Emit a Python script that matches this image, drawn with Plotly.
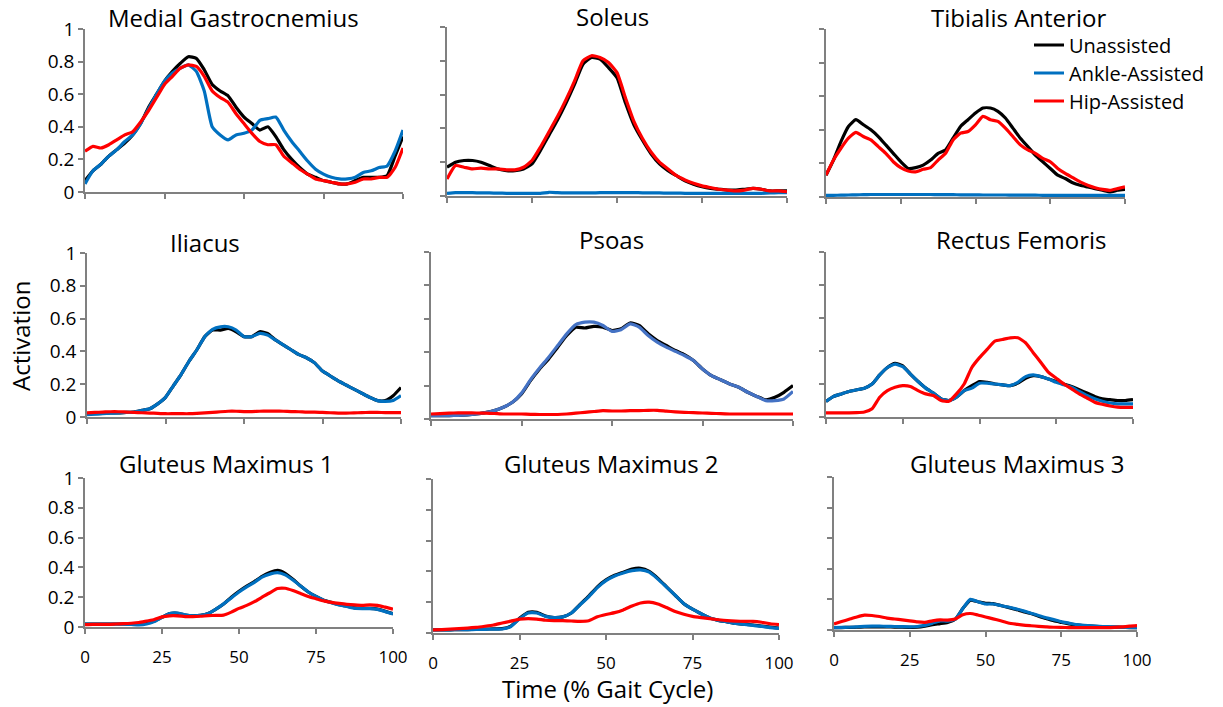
import plotly.graph_objects as go

# ---------------- data ----------------
PCT = [0, 2.5, 5, 7.5, 10, 12.5, 15, 17.5, 20, 22.5, 25, 27.5, 30, 32.5, 35, 37.5, 40,
       42.5, 45, 47.5, 50, 52.5, 55, 57.5, 60, 62.5, 65, 67.5, 70, 72.5, 75, 77.5, 80,
       82.5, 85, 87.5, 90, 92.5, 95, 97.5, 100]

SERIES = ["Unassisted", "Ankle-Assisted", "Hip-Assisted"]
X_TICKS = [0, 25, 50, 75, 100]
Y_TICKS = [0, 0.2, 0.4, 0.6, 0.8, 1]
MUSCLES = ["Medial Gastrocnemius", "Soleus", "Tibialis Anterior",
           "Iliacus", "Psoas", "Rectus Femoris",
           "Gluteus Maximus 1", "Gluteus Maximus 2", "Gluteus Maximus 3"]

MG_UN = [0.07, 0.13, 0.17, 0.22, 0.26, 0.30, 0.35, 0.42, 0.52, 0.60, 0.68, 0.74, 0.79, 0.83,
         0.82, 0.75, 0.66, 0.62, 0.59, 0.52, 0.46, 0.42, 0.38, 0.40, 0.34, 0.26, 0.20, 0.15,
         0.11, 0.09, 0.07, 0.06, 0.05, 0.05, 0.07, 0.09, 0.09, 0.09, 0.10, 0.22, 0.34]
MG_ANK = [0.05, 0.13, 0.17, 0.22, 0.26, 0.31, 0.35, 0.42, 0.51, 0.60, 0.68, 0.73, 0.76, 0.78,
          0.74, 0.62, 0.40, 0.35, 0.32, 0.35, 0.36, 0.38, 0.44, 0.45, 0.46, 0.38, 0.31, 0.25,
          0.19, 0.14, 0.11, 0.09, 0.08, 0.08, 0.09, 0.12, 0.13, 0.15, 0.16, 0.25, 0.38]
MG_HIP = [0.25, 0.28, 0.27, 0.29, 0.32, 0.35, 0.37, 0.43, 0.50, 0.58, 0.66, 0.71, 0.76, 0.78,
          0.77, 0.71, 0.62, 0.58, 0.55, 0.48, 0.42, 0.36, 0.31, 0.29, 0.29, 0.22, 0.18, 0.14,
          0.11, 0.08, 0.07, 0.06, 0.05, 0.05, 0.06, 0.08, 0.08, 0.09, 0.09, 0.15, 0.27]

SOL_UN = [0.17, 0.20, 0.21, 0.21, 0.20, 0.18, 0.16, 0.15, 0.15, 0.16, 0.19, 0.27, 0.36, 0.45,
          0.55, 0.66, 0.78, 0.82, 0.81, 0.76, 0.70, 0.55, 0.42, 0.33, 0.25, 0.19, 0.15, 0.12,
          0.09, 0.07, 0.055, 0.045, 0.04, 0.035, 0.035, 0.04, 0.045, 0.04, 0.03, 0.03, 0.03]
SOL_ANK = [0.015, 0.02, 0.02, 0.02, 0.018, 0.018, 0.017, 0.016, 0.016, 0.016, 0.016, 0.016,
           0.022, 0.02, 0.018, 0.018, 0.018, 0.018, 0.02, 0.02, 0.02, 0.02, 0.02, 0.019, 0.018,
           0.018, 0.017, 0.017, 0.016, 0.016, 0.015, 0.015, 0.015, 0.015, 0.015, 0.015, 0.015,
           0.016, 0.018, 0.02, 0.02]
SOL_HIP = [0.10, 0.18, 0.17, 0.16, 0.165, 0.16, 0.16, 0.155, 0.155, 0.17, 0.21, 0.29, 0.38,
           0.47, 0.57, 0.68, 0.80, 0.83, 0.82, 0.79, 0.73, 0.58, 0.44, 0.34, 0.26, 0.20, 0.16,
           0.12, 0.095, 0.075, 0.06, 0.05, 0.04, 0.035, 0.03, 0.035, 0.045, 0.04, 0.03, 0.03, 0.025]

TA_UN = [0.13, 0.22, 0.33, 0.42, 0.46, 0.43, 0.40, 0.36, 0.31, 0.26, 0.21, 0.17, 0.175, 0.19,
         0.22, 0.26, 0.28, 0.35, 0.42, 0.46, 0.50, 0.53, 0.53, 0.51, 0.47, 0.41, 0.35, 0.30,
         0.25, 0.21, 0.17, 0.13, 0.11, 0.085, 0.07, 0.06, 0.05, 0.04, 0.03, 0.04, 0.045]
TA_ANK = [0.01, 0.01, 0.011, 0.012, 0.013, 0.014, 0.015, 0.015, 0.015, 0.015, 0.015, 0.015,
          0.015, 0.015, 0.015, 0.014, 0.014, 0.014, 0.013, 0.013, 0.013, 0.012, 0.012, 0.012,
          0.012, 0.011, 0.011, 0.011, 0.011, 0.01, 0.01, 0.01, 0.01, 0.01, 0.01, 0.01, 0.01,
          0.01, 0.01, 0.01, 0.01]
TA_HIP = [0.13, 0.22, 0.29, 0.35, 0.385, 0.36, 0.34, 0.30, 0.26, 0.21, 0.175, 0.155, 0.15,
          0.165, 0.175, 0.22, 0.26, 0.34, 0.38, 0.39, 0.43, 0.48, 0.46, 0.45, 0.41, 0.36, 0.31,
          0.28, 0.26, 0.23, 0.21, 0.17, 0.14, 0.115, 0.09, 0.07, 0.055, 0.045, 0.04, 0.05, 0.06]

IL_UN = [0.02, 0.02, 0.022, 0.025, 0.025, 0.028, 0.03, 0.04, 0.05, 0.08, 0.12, 0.19, 0.26,
         0.34, 0.41, 0.49, 0.53, 0.53, 0.54, 0.52, 0.49, 0.49, 0.52, 0.51, 0.47, 0.44, 0.41,
         0.38, 0.36, 0.33, 0.28, 0.25, 0.22, 0.195, 0.17, 0.145, 0.12, 0.10, 0.10, 0.13, 0.18]
IL_ANK = [0.015, 0.018, 0.02, 0.023, 0.025, 0.028, 0.03, 0.04, 0.05, 0.08, 0.12, 0.19, 0.26,
          0.34, 0.41, 0.49, 0.535, 0.55, 0.55, 0.53, 0.49, 0.49, 0.51, 0.50, 0.47, 0.44, 0.41,
          0.38, 0.36, 0.33, 0.28, 0.25, 0.22, 0.195, 0.17, 0.145, 0.12, 0.10, 0.095, 0.10, 0.13]
IL_HIP = [0.025, 0.028, 0.03, 0.032, 0.032, 0.03, 0.028, 0.026, 0.024, 0.022, 0.02, 0.02, 0.02,
          0.02, 0.022, 0.025, 0.028, 0.032, 0.035, 0.035, 0.033, 0.033, 0.035, 0.036, 0.036,
          0.035, 0.033, 0.032, 0.03, 0.03, 0.028, 0.026, 0.024, 0.024, 0.025, 0.027, 0.028,
          0.028, 0.027, 0.027, 0.027]

PS_UN = [0.02, 0.02, 0.02, 0.022, 0.025, 0.03, 0.038, 0.05, 0.07, 0.10, 0.15, 0.23, 0.30,
         0.36, 0.43, 0.50, 0.55, 0.545, 0.555, 0.55, 0.53, 0.54, 0.575, 0.56, 0.51, 0.47, 0.44,
         0.41, 0.385, 0.35, 0.30, 0.26, 0.235, 0.21, 0.19, 0.16, 0.135, 0.115, 0.13, 0.16, 0.20]
PS_ANK = [0.02, 0.02, 0.02, 0.022, 0.025, 0.03, 0.038, 0.05, 0.07, 0.10, 0.155, 0.235, 0.305,
          0.37, 0.44, 0.51, 0.565, 0.58, 0.58, 0.56, 0.525, 0.535, 0.57, 0.55, 0.50, 0.46, 0.43,
          0.405, 0.38, 0.35, 0.30, 0.26, 0.235, 0.21, 0.19, 0.16, 0.135, 0.11, 0.11, 0.12, 0.165]
PS_HIP = [0.03, 0.032, 0.035, 0.037, 0.037, 0.036, 0.035, 0.033, 0.03, 0.03, 0.03, 0.028,
          0.027, 0.027, 0.027, 0.03, 0.035, 0.04, 0.045, 0.05, 0.048, 0.048, 0.05, 0.05, 0.052,
          0.052, 0.047, 0.043, 0.04, 0.038, 0.036, 0.034, 0.032, 0.03, 0.03, 0.03, 0.03, 0.03,
          0.03, 0.03, 0.03]

RF_UN = [0.095, 0.125, 0.14, 0.155, 0.165, 0.175, 0.20, 0.255, 0.30, 0.325, 0.31, 0.26, 0.215,
         0.175, 0.145, 0.11, 0.10, 0.12, 0.16, 0.19, 0.215, 0.21, 0.20, 0.195, 0.19, 0.205,
         0.235, 0.25, 0.245, 0.23, 0.215, 0.20, 0.185, 0.165, 0.145, 0.125, 0.11, 0.105, 0.10,
         0.10, 0.105]
RF_ANK = [0.095, 0.125, 0.14, 0.155, 0.165, 0.175, 0.20, 0.255, 0.30, 0.32, 0.305, 0.26, 0.215,
          0.175, 0.145, 0.11, 0.10, 0.12, 0.16, 0.175, 0.205, 0.205, 0.20, 0.195, 0.19, 0.21,
          0.245, 0.255, 0.245, 0.23, 0.21, 0.195, 0.18, 0.155, 0.13, 0.11, 0.095, 0.085, 0.08,
          0.08, 0.08]
RF_HIP = [0.025, 0.025, 0.025, 0.025, 0.026, 0.03, 0.05, 0.12, 0.16, 0.18, 0.19, 0.185, 0.16,
          0.14, 0.13, 0.10, 0.095, 0.14, 0.20, 0.30, 0.36, 0.41, 0.46, 0.47, 0.48, 0.48, 0.45,
          0.39, 0.33, 0.27, 0.235, 0.20, 0.17, 0.14, 0.115, 0.09, 0.077, 0.067, 0.06, 0.058, 0.058]

GM1_UN = [0.02, 0.02, 0.02, 0.02, 0.02, 0.02, 0.02, 0.018, 0.025, 0.04, 0.065, 0.09, 0.092,
          0.08, 0.075, 0.078, 0.09, 0.12, 0.155, 0.20, 0.24, 0.275, 0.305, 0.34, 0.365, 0.38,
          0.36, 0.32, 0.275, 0.235, 0.205, 0.18, 0.165, 0.15, 0.14, 0.128, 0.125, 0.125, 0.12,
          0.105, 0.09]
GM1_ANK = [0.02, 0.02, 0.02, 0.02, 0.02, 0.019, 0.017, 0.014, 0.02, 0.037, 0.065, 0.09, 0.094,
           0.082, 0.075, 0.078, 0.09, 0.12, 0.155, 0.195, 0.235, 0.27, 0.30, 0.335, 0.355, 0.365,
           0.35, 0.315, 0.275, 0.235, 0.205, 0.18, 0.163, 0.148, 0.138, 0.126, 0.123, 0.123,
           0.118, 0.103, 0.088]
GM1_HIP = [0.016, 0.018, 0.018, 0.018, 0.02, 0.022, 0.025, 0.03, 0.04, 0.05, 0.068, 0.075,
           0.075, 0.07, 0.07, 0.072, 0.076, 0.078, 0.08, 0.10, 0.125, 0.145, 0.17, 0.20, 0.23,
           0.258, 0.26, 0.245, 0.225, 0.205, 0.19, 0.175, 0.165, 0.158, 0.152, 0.148, 0.145,
           0.148, 0.145, 0.133, 0.12]

GM2_UN = [0.02, 0.02, 0.02, 0.022, 0.022, 0.024, 0.025, 0.027, 0.028, 0.045, 0.095, 0.135,
          0.135, 0.11, 0.10, 0.105, 0.13, 0.185, 0.24, 0.30, 0.345, 0.375, 0.395, 0.415, 0.42,
          0.40, 0.355, 0.30, 0.245, 0.19, 0.155, 0.125, 0.097, 0.082, 0.072, 0.062, 0.057,
          0.052, 0.045, 0.038, 0.032]
GM2_ANK = [0.02, 0.02, 0.02, 0.022, 0.022, 0.023, 0.024, 0.025, 0.026, 0.042, 0.092, 0.13,
           0.13, 0.108, 0.10, 0.105, 0.13, 0.183, 0.235, 0.295, 0.34, 0.37, 0.39, 0.405, 0.41,
           0.395, 0.35, 0.298, 0.245, 0.19, 0.155, 0.125, 0.097, 0.082, 0.072, 0.062, 0.055,
           0.05, 0.043, 0.035, 0.03]
GM2_HIP = [0.02, 0.022, 0.025, 0.028, 0.032, 0.037, 0.044, 0.052, 0.065, 0.077, 0.09, 0.093,
           0.09, 0.083, 0.08, 0.08, 0.078, 0.076, 0.08, 0.105, 0.12, 0.132, 0.15, 0.175, 0.195,
           0.20, 0.188, 0.165, 0.14, 0.122, 0.108, 0.10, 0.093, 0.086, 0.08, 0.077, 0.076, 0.076,
           0.07, 0.06, 0.054]

GM3_UN = [0.015, 0.016, 0.017, 0.018, 0.02, 0.02, 0.02, 0.02, 0.019, 0.018, 0.017, 0.018,
          0.025, 0.035, 0.042, 0.05, 0.07, 0.14, 0.195, 0.185, 0.175, 0.172, 0.16, 0.148, 0.135,
          0.12, 0.108, 0.09, 0.075, 0.06, 0.05, 0.04, 0.033, 0.028, 0.025, 0.022, 0.02, 0.019,
          0.018, 0.016, 0.015]
GM3_ANK = [0.015, 0.017, 0.018, 0.021, 0.024, 0.025, 0.025, 0.024, 0.023, 0.022, 0.021, 0.023,
           0.03, 0.045, 0.06, 0.058, 0.07, 0.14, 0.20, 0.185, 0.17, 0.17, 0.16, 0.15, 0.138,
           0.125, 0.11, 0.095, 0.08, 0.068, 0.055, 0.045, 0.035, 0.03, 0.027, 0.024, 0.022, 0.02,
           0.018, 0.017, 0.016]
GM3_HIP = [0.04, 0.055, 0.07, 0.085, 0.097, 0.095, 0.088, 0.078, 0.072, 0.066, 0.06, 0.053,
           0.05, 0.06, 0.066, 0.065, 0.072, 0.10, 0.108, 0.098, 0.085, 0.073, 0.06, 0.046, 0.038,
           0.032, 0.028, 0.024, 0.021, 0.018, 0.017, 0.016, 0.015, 0.015, 0.015, 0.015, 0.015,
           0.017, 0.02, 0.025, 0.028]

DATA = [
    (MG_UN, MG_ANK, MG_HIP), (SOL_UN, SOL_ANK, SOL_HIP), (TA_UN, TA_ANK, TA_HIP),
    (IL_UN, IL_ANK, IL_HIP), (PS_UN, PS_ANK, PS_HIP), (RF_UN, RF_ANK, RF_HIP),
    (GM1_UN, GM1_ANK, GM1_HIP), (GM2_UN, GM2_ANK, GM2_HIP), (GM3_UN, GM3_ANK, GM3_HIP),
]

# ---------------- layout / style ----------------
W, H = 1223, 707
FONT = "Open Sans"
AX_COLOR = "#808080"
COLORS = ["#000000", "#0070C0", "#FF0000"]
PSOAS_BLUE = "#4472C4"

# plot boxes in pixels (x0, x1, ytop, ybottom)
BOXES = [(85, 403, 29, 192), (447, 787, 27, 196), (826, 1125, 29, 197),
         (87, 401, 253, 417), (431, 793, 252, 419), (826, 1133, 252, 417),
         (85, 393, 478, 627), (433, 779, 479, 633), (834, 1137, 477, 630)]
TITLE_POS = [(233, 18), (612, 16), (1018, 17), (205, 242), (611, 240), (1021, 240),
             (226, 463), (611, 463), (1017, 463)]

fig = go.Figure()
layout = dict(
    width=W, height=H, margin=dict(l=0, r=0, t=0, b=0, autoexpand=False),
    paper_bgcolor="white", plot_bgcolor="white",
    font=dict(family=FONT, color="black"),
    annotations=[],
)

legend_names = ["legend", "legend2", "legend3"]
legend_y = [45, 73, 101]

for i, (box, series) in enumerate(zip(BOXES, DATA)):
    x0, x1, yt, yb = box
    sfx = "" if i == 0 else str(i + 1)
    xa, ya = "x" + sfx, "y" + sfx
    for j, vals in enumerate(series):
        col = COLORS[j]
        if i == 4 and j == 1:
            col = PSOAS_BLUE
        fig.add_trace(go.Scatter(
            x=PCT, y=vals, mode="lines", name=SERIES[j],
            line=dict(color=col, width=3.2, shape="spline", smoothing=0.5),
            xaxis=xa, yaxis=ya,
            showlegend=(i == 0), legend=legend_names[j],
        ))
    row, colidx = divmod(i, 3)
    layout["xaxis" + sfx] = dict(
        domain=[x0 / W, x1 / W], anchor=ya, range=[0, 100],
        tickvals=X_TICKS, showticklabels=(row == 2),
        ticks="outside", ticklen=5, tickwidth=1.5, tickcolor=AX_COLOR,
        showline=True, linecolor=AX_COLOR, linewidth=1.5,
        showgrid=False, zeroline=False, fixedrange=True,
        tickfont=dict(size=17, family=FONT, color="black"),
        ticklabelstandoff=9,
    )
    layout["yaxis" + sfx] = dict(
        domain=[1 - yb / H, 1 - yt / H], anchor=xa, range=[0, 1],
        tickvals=Y_TICKS, showticklabels=(colidx == 0),
        ticks="outside", ticklen=5, tickwidth=1.5, tickcolor=AX_COLOR,
        showline=True, linecolor=AX_COLOR, linewidth=1.5,
        showgrid=False, zeroline=False, fixedrange=True,
        tickfont=dict(size=19, family=FONT, color="black"),
    )
    tx, ty = TITLE_POS[i]
    layout["annotations"].append(dict(
        text=MUSCLES[i], x=tx / W, y=1 - ty / H, xref="paper", yref="paper",
        xanchor="center", yanchor="middle", showarrow=False,
        font=dict(size=24, family=FONT, color="black"),
    ))

layout["annotations"].append(dict(
    text="Activation", x=20 / W, y=1 - 336 / H, xref="paper", yref="paper",
    xanchor="center", yanchor="middle", showarrow=False, textangle=-90,
    font=dict(size=24, family=FONT, color="black"),
))
layout["annotations"].append(dict(
    text="Time (% Gait Cycle)", x=607 / W, y=1 - 688 / H, xref="paper", yref="paper",
    xanchor="center", yanchor="middle", showarrow=False,
    font=dict(size=24, family=FONT, color="black"),
))

for name, yc in zip(legend_names, legend_y):
    layout[name] = dict(
        x=1029 / W, y=1 - yc / H, xanchor="left", yanchor="middle",
        bgcolor="rgba(0,0,0,0)", borderwidth=0,
        font=dict(size=20, family=FONT, color="black"),
        itemclick=False, itemdoubleclick=False,
    )

fig.update_layout(**layout)
fig.write_html("out.html")
